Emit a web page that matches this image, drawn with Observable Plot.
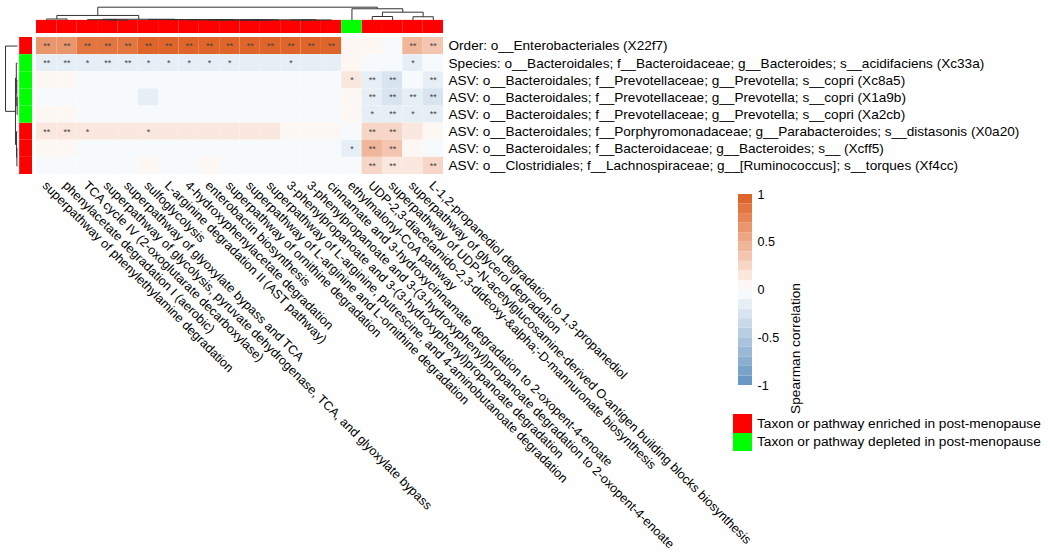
<!DOCTYPE html>
<html><head><meta charset="utf-8">
<script src="https://cdn.jsdelivr.net/npm/d3@7"></script>
<script src="https://cdn.jsdelivr.net/npm/@observablehq/plot@0.6"></script>
<style>
body{margin:0;background:#fff;}
#wrap{position:relative;width:1050px;height:556px;overflow:hidden;font-family:"Liberation Sans",Arial,sans-serif;background:#fff;}
#wrap svg{position:absolute;left:0;top:0;}
.lg{position:absolute;left:733px;display:flex;align-items:center;font-size:13.7px;color:#000;white-space:nowrap;}
.lg span.sw{display:inline-block;width:19px;height:18.5px;margin-right:5px;}
</style></head><body><div id="wrap"></div>
<script>
// ---------- data ----------
const pathways = [
  "superpathway of phenylethylamine degradation",
  "phenylacetate degradation I (aerobic)",
  "TCA cycle IV (2-oxoglutarate decarboxylase)",
  "superpathway of glycolysis, pyruvate dehydrogenase, TCA, and glyoxylate bypass",
  "superpathway of glyoxylate bypass and TCA",
  "sulfoglycolysis",
  "L-arginine degradation II (AST pathway)",
  "4-hydroxyphenylacetate degradation",
  "enterobactin biosynthesis",
  "superpathway of ornithine degradation",
  "superpathway of L-arginine and L-ornithine degradation",
  "superpathway of L-arginine, putrescine, and 4-aminobutanoate degradation",
  "3-phenylpropanoate and 3-(3-hydroxyphenyl)propanoate degradation",
  "3-phenylpropanoate and 3-(3-hydroxyphenyl)propanoate degradation to 2-oxopent-4-enoate",
  "cinnamate and 3-hydroxycinnamate degradation to 2-oxopent-4-enoate",
  "ethylmalonyl-CoA pathway",
  "UDP-2,3-diacetamido-2,3-dideoxy-&alpha;-D-mannuronate biosynthesis",
  "superpathway of UDP-N-acetylglucosamine-derived O-antigen building blocks biosynthesis",
  "superpathway of glycerol degradation",
  "L-1,2-propanediol degradation to 1,3-propanediol"
];
const taxa = [
  "Order: o__Enterobacteriales (X22f7)",
  "Species: o__Bacteroidales; f__Bacteroidaceae; g__Bacteroides; s__acidifaciens (Xc33a)",
  "ASV: o__Bacteroidales; f__Prevotellaceae; g__Prevotella; s__copri (Xc8a5)",
  "ASV: o__Bacteroidales; f__Prevotellaceae; g__Prevotella; s__copri (X1a9b)",
  "ASV: o__Bacteroidales; f__Prevotellaceae; g__Prevotella; s__copri (Xa2cb)",
  "ASV: o__Bacteroidales; f__Porphyromonadaceae; g__Parabacteroides; s__distasonis (X0a20)",
  "ASV: o__Bacteroidales; f__Bacteroidaceae; g__Bacteroides; s__ (Xcff5)",
  "ASV: o__Clostridiales; f__Lachnospiraceae; g__[Ruminococcus]; s__torques (Xf4cc)"
];
const pathwayGroup = ["enriched","enriched","enriched","enriched","enriched","enriched","enriched","enriched","enriched","enriched","enriched","enriched","enriched","enriched","enriched","depleted","enriched","enriched","enriched","enriched"];
const taxonGroup = ["enriched","depleted","depleted","depleted","depleted","enriched","enriched","enriched"];

// Spearman correlation per taxon (columns follow `pathways`)
const rho_X22f7 = [0.65,0.65,0.85,0.85,0.85,0.95,0.95,0.95,0.95,0.95,0.95,0.95,0.95,0.95,0.95,0.06,0.04,-0.02,0.45,0.35];
const rho_Xc33a = [-0.15,-0.15,-0.15,-0.15,-0.15,-0.15,-0.15,-0.15,-0.15,-0.15,-0.13,-0.13,-0.15,-0.13,-0.13,0.05,-0.02,-0.04,-0.15,-0.05];
const rho_Xc8a5 = [0.04,0.04,-0.04,-0.04,-0.04,-0.04,-0.04,-0.04,-0.04,-0.04,-0.04,-0.04,-0.04,-0.04,-0.04,0.15,-0.15,-0.25,-0.05,-0.15];
const rho_X1a9b = [-0.04,-0.04,-0.04,-0.04,-0.04,-0.15,-0.04,-0.04,-0.04,-0.04,-0.04,-0.04,-0.04,-0.04,-0.04,0.04,-0.15,-0.22,-0.15,-0.22];
const rho_Xa2cb = [0.04,0.04,-0.04,-0.04,-0.04,-0.04,-0.04,-0.04,-0.04,-0.04,-0.04,-0.04,-0.04,-0.04,-0.04,0.04,-0.12,-0.15,-0.12,-0.15];
const rho_X0a20 = [0.15,0.15,0.15,0.15,0.15,0.15,0.15,0.15,0.15,0.15,0.15,0.15,0.05,0.05,0.05,-0.04,0.28,0.25,0.15,0.05];
const rho_Xcff5 = [0.05,0.05,-0.04,-0.04,-0.04,-0.04,-0.04,-0.04,-0.04,-0.04,-0.04,-0.04,-0.04,-0.04,-0.04,-0.15,0.42,0.33,0.05,-0.04];
const rho_Xf4cc = [-0.04,-0.04,-0.04,-0.04,-0.04,0.04,-0.04,-0.04,0.04,-0.04,-0.04,-0.04,-0.04,-0.04,-0.04,-0.04,0.25,0.18,0.15,0.28];

// significance marks
const sig_X22f7 = ["**","**","**","**","**","**","**","**","**","**","**","**","**","**","**","","","","**","**"];
const sig_Xc33a = ["**","**","*","**","**","*","*","*","*","*","","","*","","","","","","*",""];
const sig_Xc8a5 = ["","","","","","","","","","","","","","","","*","**","**","","**"];
const sig_X1a9b = ["","","","","","","","","","","","","","","","","**","**","**","**"];
const sig_Xa2cb = ["","","","","","","","","","","","","","","","","*","**","*","**"];
const sig_X0a20 = ["**","**","*","","","*","","","","","","","","","","","**","**","",""];
const sig_Xcff5 = ["","","","","","","","","","","","","","","","*","**","**","",""];
const sig_Xf4cc = ["","","","","","","","","","","","","","","","","**","**","","**"];

// hierarchical clustering (hclust-style merges: negative = leaf, positive = earlier merge; last = height)
const colMerge = [
  [-4,-5,0.02],[-3,1,0.05],[-13,-14,0.02],[3,-15,0.025],[-9,-10,0.02],[-11,-12,0.02],
  [5,6,0.03],[7,4,0.035],[-8,8,0.04],[-7,9,0.05],[-6,10,0.06],[2,11,0.08],
  [-1,-2,0.10],[13,12,0.37],[-17,-18,0.29],[-19,-20,0.27],[15,16,0.62],[-16,17,0.88],[14,18,1.0]
];
const rowMerge = [
  [-4,-5,0.03],[-3,1,0.06],[-2,2,0.10],[-7,-8,0.05],[-6,4,0.08],[3,5,0.17],[-1,6,1.0]
];

const legendLabels = ["Taxon or pathway enriched in post-menopause","Taxon or pathway depleted in post-menopause"];
const colorbarTicks = [-1,-0.5,0,0.5,1];

// ---------- styling ----------
const FONT = "'Liberation Sans', Arial, sans-serif";
const groupColor = {enriched: "#FF0000", depleted: "#00FF00"};
const nBins = 20;
const ramp = d3.piecewise(d3.interpolateRgb, ["#6A98C4", "#FFFFFF", "#E0652A"]);
const binColors = d3.range(nBins).map(i => ramp(i / (nBins - 1)));
const thresholds = d3.range(1, nBins).map(i => -1 + 2 * i / nBins);
const colorScale = {type: "threshold", domain: thresholds, range: binColors};

// ---------- build ----------
const rowValues = [rho_X22f7, rho_Xc33a, rho_Xc8a5, rho_X1a9b, rho_Xa2cb, rho_X0a20, rho_Xcff5, rho_Xf4cc];
const rowStars = [sig_X22f7, sig_Xc33a, sig_Xc8a5, sig_X1a9b, sig_Xa2cb, sig_X0a20, sig_Xcff5, sig_Xf4cc];
const cells = [];
rowValues.forEach((vals, r) => vals.forEach((v, c) => cells.push({r, c, v, s: rowStars[r][c]})));
const colAnn = pathways.map((p, i) => ({i, g: pathwayGroup[i]}));
const rowAnn = taxa.map((t, i) => ({i, g: taxonGroup[i]}));

function dendroSegments(merge) {
  const pos = [], ht = [], segs = [];
  const get = k => k < 0 ? {p: -k - 0.5, h: 0} : {p: pos[k - 1], h: ht[k - 1]};
  merge.forEach(([a, b, h]) => {
    const A = get(a), B = get(b);
    segs.push({p1: A.p, h1: A.h, p2: A.p, h2: h});
    segs.push({p1: B.p, h1: B.h, p2: B.p, h2: h});
    segs.push({p1: A.p, h1: h, p2: B.p, h2: h});
    pos.push((A.p + B.p) / 2); ht.push(h);
  });
  return segs;
}

const wrap = document.getElementById("wrap");
const nC = pathways.length, nR = taxa.length;

const main = Plot.plot({
  width: 1050, height: 556, margin: 0,
  style: {fontFamily: FONT, fontSize: "12.6px", background: "white", overflow: "visible"},
  x: {domain: [0, nC], range: [36, 443], axis: null},
  y: {domain: [0, nR], range: [37, 174], axis: null},
  color: colorScale,
  marks: [
    Plot.rect(cells, {x1: "c", x2: d => d.c + 1, y1: "r", y2: d => d.r + 1, fill: "v"}),
    Plot.text(cells.filter(d => d.s), {x: d => d.c + 0.5, y: d => d.r + 0.5, text: "s", fontSize: 9, fill: "#444"}),
    Plot.rect(colAnn.filter(d => d.g === "enriched"), {x1: "i", x2: d => d.i + 1, y1: () => -1, y2: () => 0, insetBottom: 4, fill: groupColor.enriched}),
    Plot.rect(colAnn.filter(d => d.g === "depleted"), {x1: "i", x2: d => d.i + 1, y1: () => -1, y2: () => 0, insetBottom: 4, fill: groupColor.depleted}),
    Plot.rect(rowAnn.filter(d => d.g === "enriched"), {y1: "i", y2: d => d.i + 1, x1: () => -1, x2: () => 0, insetLeft: 3.5, insetRight: 4, fill: groupColor.enriched}),
    Plot.rect(rowAnn.filter(d => d.g === "depleted"), {y1: "i", y2: d => d.i + 1, x1: () => -1, x2: () => 0, insetLeft: 3.5, insetRight: 4, fill: groupColor.depleted}),
    Plot.text(taxa, {x: () => nC, y: (d, i) => i + 0.5, dx: 5, textAnchor: "start", fontSize: 13.6, fill: "#000"}),
    Plot.text(pathways, {x: (d, i) => i + 0.5, y: () => nR, dx: -2, dy: 9, rotate: 45, textAnchor: "start", fontSize: 12.6, fill: "#000"})
  ]
});
wrap.appendChild(main);

const colDendro = Plot.plot({
  width: 1050, height: 556, margin: 0,
  style: {background: "transparent", overflow: "visible"},
  x: {domain: [0, nC], range: [36, 443], axis: null},
  y: {domain: [0, 1], range: [19.8, 6.7], axis: null},
  marks: [Plot.link(dendroSegments(colMerge), {x1: "p1", y1: "h1", x2: "p2", y2: "h2", stroke: "#333", strokeWidth: 1})]
});
wrap.appendChild(colDendro);

const rowDendro = Plot.plot({
  width: 1050, height: 556, margin: 0,
  style: {background: "transparent", overflow: "visible"},
  x: {domain: [0, 1], range: [17, 5], axis: null},
  y: {domain: [0, nR], range: [37, 174], axis: null},
  marks: [Plot.link(dendroSegments(rowMerge), {x1: "h1", y1: "p1", x2: "h2", y2: "p2", stroke: "#333", strokeWidth: 1})]
});
wrap.appendChild(rowDendro);

const bins = d3.range(nBins).map(i => ({lo: -1 + 2 * i / nBins, hi: -1 + 2 * (i + 1) / nBins}));
const colorbar = Plot.plot({
  width: 1050, height: 556,
  marginLeft: 738, marginRight: 298, marginTop: 194, marginBottom: 171,
  style: {background: "transparent", fontFamily: FONT, fontSize: "12.6px", overflow: "visible"},
  y: {domain: [-1, 1], axis: null},
  color: colorScale,
  marks: [
    Plot.rect(bins, {y1: "lo", y2: "hi", fill: d => (d.lo + d.hi) / 2}),
    Plot.axisY(colorbarTicks, {anchor: "right", tickSize: 0, tickPadding: 5, tickFormat: d => String(d), label: null, fontSize: 12.6, fill: "#000"}),
    Plot.text(["Spearman correlation"], {frameAnchor: "right", rotate: -90, dx: 43, dy: -7, fontSize: 13.7, fill: "#000"})
  ]
});
wrap.appendChild(colorbar);

const legendColors = [groupColor.enriched, groupColor.depleted];
legendLabels.forEach((lab, i) => {
  const row = document.createElement("div");
  row.className = "lg";
  row.style.top = (414 + i * 18.5) + "px";
  const sw = document.createElement("span");
  sw.className = "sw";
  sw.style.background = legendColors[i];
  const tx = document.createElement("span");
  tx.textContent = lab;
  row.appendChild(sw); row.appendChild(tx);
  wrap.appendChild(row);
});
</script></body></html>
